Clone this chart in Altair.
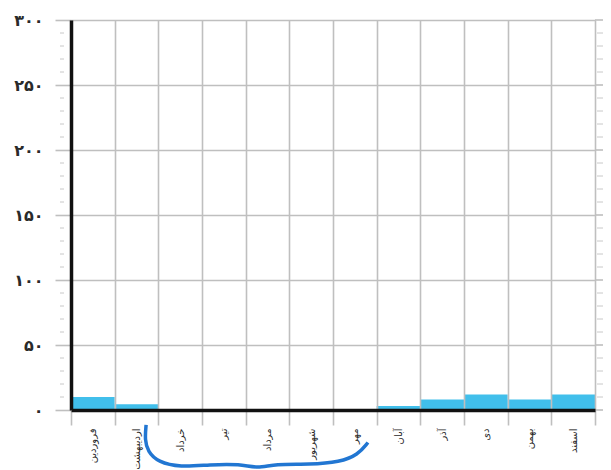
import altair as alt
import pandas as pd

# ---- data ----
months = ["فروردین", "اردیبهشت", "خرداد", "تیر", "مرداد", "شهریور",
          "مهر", "آبان", "آذر", "دی", "بهمن", "اسفند"]
values = [10, 4.5, 0, 0, 0, 0, 0, 3, 8, 12, 8, 12]

y_ticks = [0, 50, 100, 150, 200, 250, 300]
y_labels = ["۰", "۵۰", "۱۰۰", "۱۵۰", "۲۰۰", "۲۵۰", "۳۰۰"]
minor_ticks = [10, 20, 30, 40, 60, 70, 80, 90, 110, 120, 130, 140,
               160, 170, 180, 190, 210, 220, 230, 240, 260, 270, 280, 290]

# hand-drawn brace annotation (month units, value units)
brace_x = [1.72, 1.69, 1.76, 1.99, 2.50, 3.18, 3.87, 4.28, 4.67, 5.47, 6.16, 6.57, 6.80]
brace_y = [-11.5, -23, -32, -40, -44, -42, -41.5, -45, -41.5, -42, -40, -34.5, -25]

W, H = 524, 390
GRID = "#bfbfbf"

bars_df = pd.DataFrame({"month": months, "value": values})
ticks_df = pd.DataFrame({"v": y_ticks})
minor_df = pd.DataFrame({"v": minor_ticks})
brace_df = pd.DataFrame({"idx": list(range(len(brace_x))), "bx": brace_x, "by": brace_y})

yscale = alt.Scale(domain=[0, 300], nice=False, zero=True)

label_expr = " : ".join(f"datum.value == {v} ? '{l}'" for v, l in zip(y_ticks, y_labels)) + " : ''"

bars = alt.Chart(bars_df).mark_bar(color="#41bfeb").encode(
    x=alt.X("month:N", sort=months, title=None,
            scale=alt.Scale(paddingInner=0, paddingOuter=0),
            axis=alt.Axis(tickBand="extent", grid=True, gridColor=GRID, gridWidth=1.6,
                          tickColor=GRID, tickWidth=1.6, tickSize=15,
                          domainColor="#111111", domainWidth=3.5,
                          labelAngle=-90, labelFontSize=10, labelColor="#2a2a2a",
                          labelPadding=3, labelFont="DejaVu Sans", zindex=1)),
    y=alt.Y("value:Q", scale=yscale, title=None,
            axis=alt.Axis(values=y_ticks, labelExpr=label_expr, grid=True,
                          gridColor=GRID, gridWidth=1.6, tickColor=GRID, tickWidth=1.6,
                          tickSize=16, domainColor="#111111", domainWidth=3.5,
                          labelFontSize=16, labelFontWeight="bold", labelColor="#2a2a2a",
                          labelPadding=12, labelFont="DejaVu Sans", zindex=1)),
)

ext = alt.Chart(ticks_df).mark_rule(color=GRID, strokeWidth=1.6).encode(
    y=alt.Y("v:Q", scale=yscale, axis=None),
    x=alt.value(W), x2=alt.value(W + 8),
)

minor_left = alt.Chart(minor_df).mark_rule(color="#c8c8c8", strokeWidth=1).encode(
    y=alt.Y("v:Q", scale=yscale, axis=None),
    x=alt.value(-11), x2=alt.value(-7),
)

minor_right = alt.Chart(minor_df).mark_rule(color="#c8c8c8", strokeWidth=1).encode(
    y=alt.Y("v:Q", scale=yscale, axis=None),
    x=alt.value(W + 2), x2=alt.value(W + 8),
)

brace = alt.Chart(brace_df).mark_line(color="#2176d2", strokeWidth=3.5,
                                      interpolate="basis", clip=False).encode(
    x=alt.X("bx:Q", scale=alt.Scale(domain=[0, 12], nice=False, zero=False), axis=None),
    y=alt.Y("by:Q", scale=yscale, axis=None),
    order="idx:Q",
)

chart = alt.layer(bars, ext, minor_left, minor_right, brace).resolve_scale(
    x="independent"
).resolve_axis(
    y="independent"
).properties(
    width=W, height=H,
    autosize=alt.AutoSizeParams(type="none"),
    padding={"left": 63, "top": 12, "right": 8, "bottom": 60},
).configure_view(stroke="transparent").configure(background="white")

chart.save("out.html", embed_options={"renderer": "svg", "actions": False})
